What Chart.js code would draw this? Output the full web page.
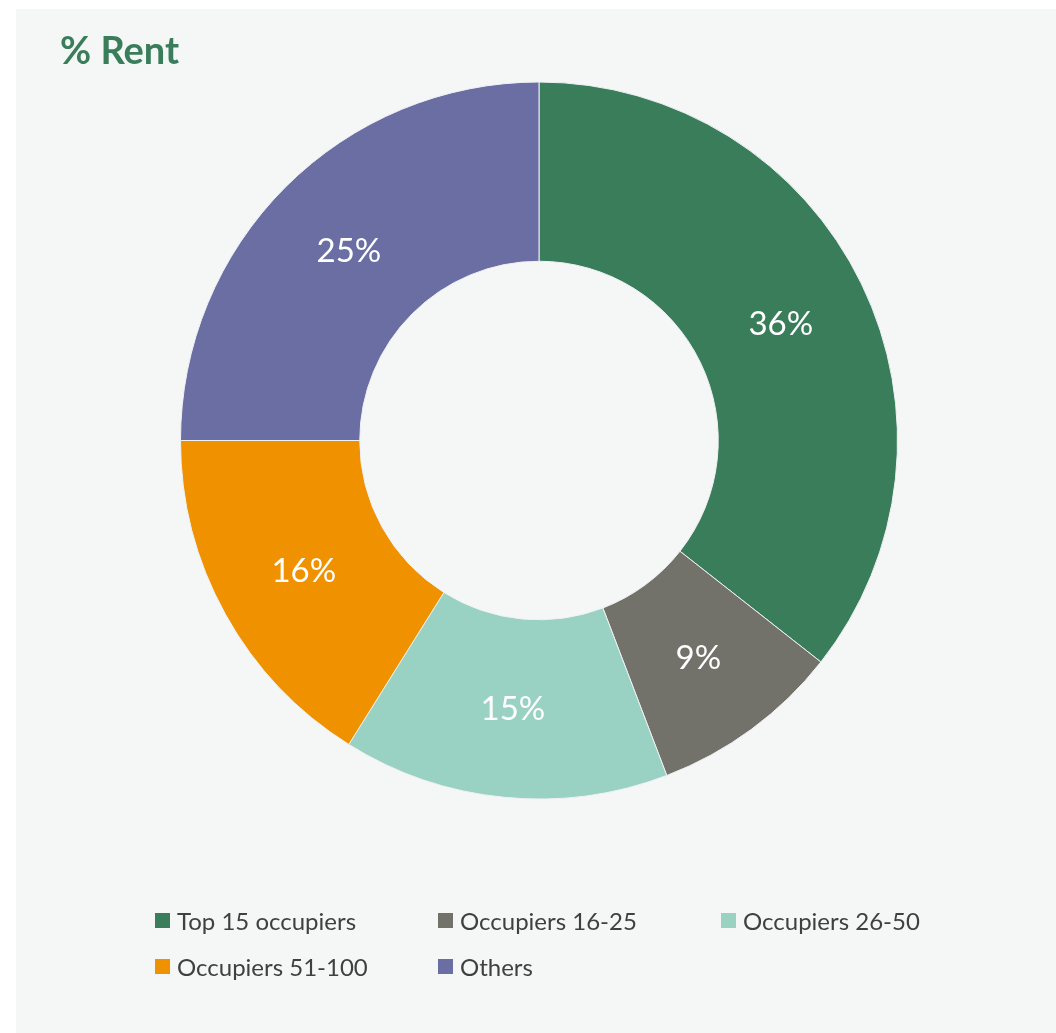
<!DOCTYPE html>
<html>
<head>
<meta charset="utf-8">
<script src="https://cdn.jsdelivr.net/npm/chart.js@4.4.1/dist/chart.umd.min.js"></script>
<style>
  body { margin: 0; background: #ffffff; font-family: Lato, "Open Sans", sans-serif; }
  #panel { position: absolute; left: 16px; top: 9px; width: 1040px; height: 1024px; background: #f5f7f7; }
  #title { position: absolute; left: 44px; top: 17px; font-size: 38px; font-weight: bold; color: #3a7d5a; }
  #chart { position: absolute; left: 0; top: 0; }
  #legend { position: absolute; left: 139px; top: 896px; display: grid; grid-template-columns: 283px 283px 283px; row-gap: 16px; }
  .item { display: flex; align-items: center; font-size: 24px; color: #404040; height: 30px; }
  .box { width: 15px; height: 15px; margin-right: 7px; flex: none; }
</style>
</head>
<body>
<div id="panel">
  <canvas id="chart" width="1040" height="1024"></canvas>
  <div id="title">% Rent</div>
  <div id="legend"></div>
</div>
<script>
const labels = ["Top 15 occupiers", "Occupiers 16-25", "Occupiers 26-50", "Occupiers 51-100", "Others"];
const rentShare = [35.6, 8.6, 14.7, 16.1, 25.0];
const colors = ["#3a7d5a", "#72716a", "#99d1c2", "#f09200", "#6a6ea2"];

// white % labels in the middle of each ring slice
const sliceLabels = {
  id: "sliceLabels",
  afterDatasetsDraw(chart) {
    const ctx = chart.ctx;
    const meta = chart.getDatasetMeta(0);
    ctx.save();
    ctx.fillStyle = "#ffffff";
    ctx.font = "33px Lato, 'Open Sans', sans-serif";
    ctx.textAlign = "center";
    ctx.textBaseline = "middle";
    meta.data.forEach((arc, i) => {
      const p = arc.tooltipPosition();
      ctx.fillText(Math.round(rentShare[i]) + "%", p.x, p.y + 1);
    });
    ctx.restore();
  },
};

new Chart(document.getElementById("chart").getContext("2d"), {
  type: "doughnut",
  data: {
    labels: labels,
    datasets: [
      {
        data: rentShare,
        backgroundColor: colors,
        borderColor: "#eef0f4",
        borderWidth: 1,
      },
    ],
  },
  options: {
    responsive: false,
    animation: false,
    cutout: "50%",
    layout: { padding: { left: 164, right: 158, top: 72, bottom: 233 } },
    plugins: {
      legend: { display: false },
      tooltip: { enabled: false },
    },
  },
  plugins: [sliceLabels],
});

const legend = document.getElementById("legend");
labels.forEach((name, i) => {
  const item = document.createElement("div");
  item.className = "item";
  item.innerHTML = '<span class="box" style="background:' + colors[i] + '"></span>' + name;
  legend.appendChild(item);
});
</script>
</body>
</html>
